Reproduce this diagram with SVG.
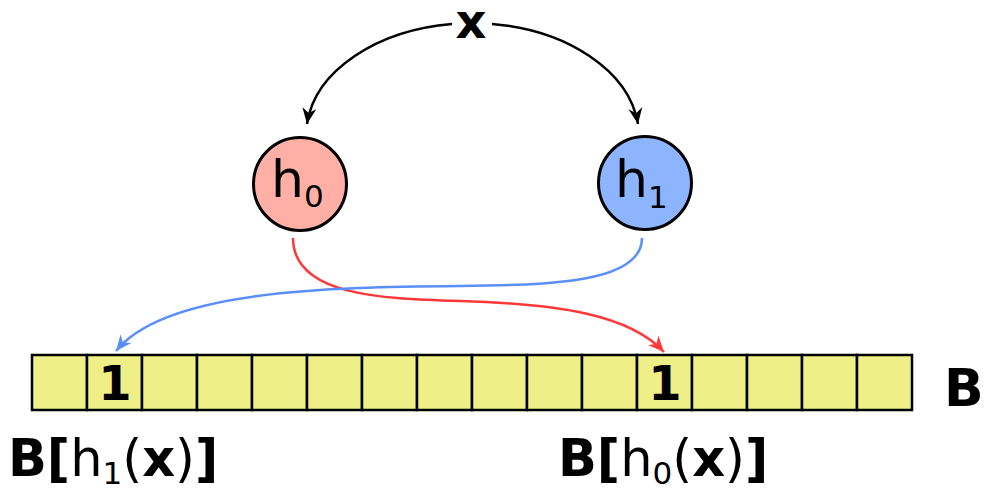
<svg xmlns="http://www.w3.org/2000/svg" width="984" height="490" viewBox="0 0 984 490">
<style>
.cell{fill:#efef88;stroke:#000;stroke-width:2.5}
.node{stroke:#000;stroke-width:3}
.t{font-family:"DejaVu Sans",sans-serif;fill:#000}
.b{font-weight:bold}
.con{fill:none;stroke-width:2.5}
</style>
<defs>
<marker id="ak" markerUnits="userSpaceOnUse" viewBox="-17 -8 18 16" refX="0" refY="0" markerWidth="18" markerHeight="16" orient="auto"><path d="M0,0 L-16,-7 L-11,0 L-16,7 Z" fill="#000"/></marker>
<marker id="ar" markerUnits="userSpaceOnUse" viewBox="-17 -8 18 16" refX="0" refY="0" markerWidth="18" markerHeight="16" orient="auto"><path d="M0,0 L-16,-7 L-11,0 L-16,7 Z" fill="#ff3838"/></marker>
<marker id="ab" markerUnits="userSpaceOnUse" viewBox="-17 -8 18 16" refX="0" refY="0" markerWidth="18" markerHeight="16" orient="auto"><path d="M0,0 L-16,-7 L-11,0 L-16,7 Z" fill="#5a8ef8"/></marker>
</defs>
<g id="connectors">
<path class="con" stroke="#000" d="M452,24 C378,30 315,70 307,124" marker-end="url(#ak)"/>
<path class="con" stroke="#000" d="M492,24 C566,30 629,70 638,124" marker-end="url(#ak)"/>
<path class="con" stroke="#ff3838" d="M293,238 C293,295 380,299 460,301 C560,304 630,315 664,352" marker-end="url(#ar)"/>
<path class="con" stroke="#5a8ef8" d="M642,238 C642,283 550,285 460,286 C330,287 165,290 116,351" marker-end="url(#ab)"/>
</g>
<g id="x"><text class="t b" x="471" y="38" font-size="48" text-anchor="middle">x</text></g>
<g id="h0">
<circle class="node" cx="300" cy="184" r="46.5" fill="#ffafa5"/>
<text class="t" x="271" y="197" font-size="52">h<tspan font-size="31" dy="10">0</tspan></text>
</g>
<g id="h1">
<circle class="node" cx="645" cy="183" r="46.5" fill="#8cb4ff"/>
<text class="t" x="615" y="197" font-size="52">h<tspan font-size="31" dy="11">1</tspan></text>
</g>
<g id="B">
<rect class="cell" x="32" y="355" width="55" height="55"/>
<rect class="cell" x="87" y="355" width="55" height="55"/>
<rect class="cell" x="142" y="355" width="55" height="55"/>
<rect class="cell" x="197" y="355" width="55" height="55"/>
<rect class="cell" x="252" y="355" width="55" height="55"/>
<rect class="cell" x="307" y="355" width="55" height="55"/>
<rect class="cell" x="362" y="355" width="55" height="55"/>
<rect class="cell" x="417" y="355" width="55" height="55"/>
<rect class="cell" x="472" y="355" width="55" height="55"/>
<rect class="cell" x="527" y="355" width="55" height="55"/>
<rect class="cell" x="582" y="355" width="55" height="55"/>
<rect class="cell" x="637" y="355" width="55" height="55"/>
<rect class="cell" x="692" y="355" width="55" height="55"/>
<rect class="cell" x="747" y="355" width="55" height="55"/>
<rect class="cell" x="802" y="355" width="55" height="55"/>
<rect class="cell" x="857" y="355" width="55" height="55"/>
<text class="t b" x="115" y="400" font-size="48" text-anchor="middle">1</text>
<text class="t b" x="665" y="400" font-size="48" text-anchor="middle">1</text>
<text class="t b" x="944" y="406" font-size="52">B</text>
</g>
<g id="labels">
<text class="t" x="8" y="476" font-size="51"><tspan class="b">B[</tspan>h<tspan font-size="31" dy="8">1</tspan><tspan dy="-8">(</tspan><tspan class="b">x</tspan>)<tspan class="b">]</tspan></text>
<text class="t" x="558" y="476" font-size="51"><tspan class="b">B[</tspan>h<tspan font-size="31" dy="8">0</tspan><tspan dy="-8">(</tspan><tspan class="b">x</tspan>)<tspan class="b">]</tspan></text>
</g>
</svg>
